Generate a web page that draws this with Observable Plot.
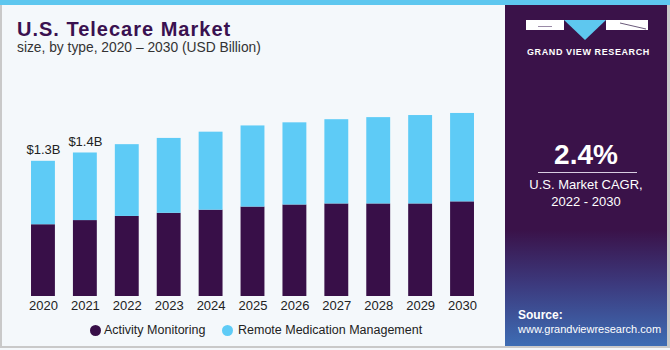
<!DOCTYPE html>
<html>
<head>
<meta charset="utf-8">
<script src="https://cdn.jsdelivr.net/npm/d3@7"></script>
<script src="https://cdn.jsdelivr.net/npm/@observablehq/plot@0.6"></script>
<style>
  html, body { margin: 0; padding: 0; }
  body { width: 670px; height: 350px; position: relative; overflow: hidden; background: #f4f8fb; font-family: "Liberation Sans", Arial, sans-serif; }
  #stripe { position: absolute; left: 0; top: 0; width: 670px; height: 5px; background: #5ec7ef; }
  #left { position: absolute; left: 0; top: 5px; width: 503px; height: 341px; border-left: 2px solid #c9c9c9; border-bottom: 2px solid #c9c9c9; box-sizing: content-box; background: #f4f8fb; }
  #title { position: absolute; left: 17px; top: 18px; font-size: 20px; font-weight: bold; color: #3a1150; letter-spacing: 1px; }
  #subtitle { position: absolute; left: 17px; top: 40px; font-size: 13.8px; color: #333; }
  #chart { position: absolute; left: 0; top: 80px; }
  #legend { position: absolute; top: 323px; left: 0; font-size: 12.5px; color: #222; }
  .dot { position: absolute; width: 11px; height: 11px; border-radius: 50%; top: 2px; }
  .lab { position: absolute; top: 0; white-space: nowrap; }
  #right { position: absolute; left: 505px; top: 5px; width: 162px; height: 341px; background: linear-gradient(to bottom, #3a1249 0px, #3a1249 225px, #3c3a7e 280px, #3e6db4 341px); border-right: 3px solid #c9c9c9; border-bottom: 2px solid #c9c9c9; }
  .w { position: absolute; color: #fff; white-space: nowrap; }
</style>
</head>
<body>
<div id="stripe"></div>
<div id="left">
</div>
<div id="title">U.S. Telecare Market</div>
<div id="subtitle">size, by type, 2020 – 2030 (USD Billion)</div>
<div id="chart"></div>
<div id="legend">
  <div class="dot" style="left:90px;background:#380f48"></div>
  <div class="lab" style="left:104px">Activity Monitoring</div>
  <div class="dot" style="left:222px;background:#5ecbf6"></div>
  <div class="lab" style="left:238px">Remote Medication Management</div>
</div>
<div id="right">
  <div style="position:absolute;left:21px;top:15px;width:38px;height:10px;background:#fff"></div>
  <div style="position:absolute;left:33px;top:21px;width:14px;height:1px;background:#9a8aa6"></div>
  <svg style="position:absolute;left:59px;top:15px" width="42" height="21"><polygon points="0,0 42,0 21,20" fill="#5ec7ef"/></svg>
  <div style="position:absolute;left:101px;top:15px;width:42px;height:10px;background:#fff"></div>
  <svg style="position:absolute;left:101px;top:15px" width="42" height="10"><line x1="14" y1="3" x2="40" y2="9" stroke="#6a5a7a" stroke-width="1"/></svg>
  <div class="w" style="left:22px;top:42px;font-size:9px;font-weight:bold;letter-spacing:0.6px">GRAND VIEW RESEARCH</div>
  <div class="w" style="left:0;width:162px;text-align:center;top:134px;font-size:28px;font-weight:bold">2.4%</div>
  <div style="position:absolute;left:33px;top:167px;width:99px;height:1px;background:#d8cde0"></div>
  <div class="w" style="left:0;width:162px;text-align:center;top:172px;font-size:13px">U.S. Market CAGR,</div>
  <div class="w" style="left:0;width:162px;text-align:center;top:189px;font-size:13px">2022 - 2030</div>
  <div class="w" style="left:13px;top:303px;font-size:12px;font-weight:bold">Source:</div>
  <div class="w" style="left:13px;top:318px;font-size:11px">www.grandviewresearch.com</div>
</div>
<script>
const years = ["2020","2021","2022","2023","2024","2025","2026","2027","2028","2029","2030"];
const types = ["Activity Monitoring", "Remote Medication Management"];
const activityMonitoring = [0.69, 0.73, 0.77, 0.80, 0.83, 0.86, 0.88, 0.89, 0.89, 0.89, 0.91];
const remoteMedication   = [0.61, 0.65, 0.69, 0.72, 0.75, 0.78, 0.79, 0.81, 0.83, 0.85, 0.85];
const labelYears = ["2020", "2021"];
const labelTexts = ["$1.3B", "$1.4B"];

const rows = years.flatMap((yr, i) => [
  {year: yr, type: types[0], value: activityMonitoring[i]},
  {year: yr, type: types[1], value: remoteMedication[i]}
]);
const labels = labelYears.map((yr, i) => {
  const k = years.indexOf(yr);
  return {year: yr, total: activityMonitoring[k] + remoteMedication[k], text: labelTexts[i]};
});

const chart = Plot.plot({
  width: 500,
  height: 235,
  marginLeft: 13,
  marginRight: 8,
  marginTop: 8,
  marginBottom: 19,
  style: {fontFamily: "'Liberation Sans', Arial, sans-serif", fontSize: "13px", color: "#222", background: "transparent"},
  x: {type: "band", domain: years, padding: 0.43, round: false, label: null, tickSize: 0, tickPadding: 4},
  y: {domain: [0, 2], axis: null},
  color: {domain: types, range: ["#380f48", "#5ecbf6"]},
  marks: [
    Plot.barY(rows, {x: "year", y: "value", fill: "type"}),
    Plot.text(labels, {x: "year", y: "total", text: "text", dy: -11, fill: "#222", fontSize: 13})
  ]
});
document.getElementById("chart").appendChild(chart);
</script>
</body>
</html>
